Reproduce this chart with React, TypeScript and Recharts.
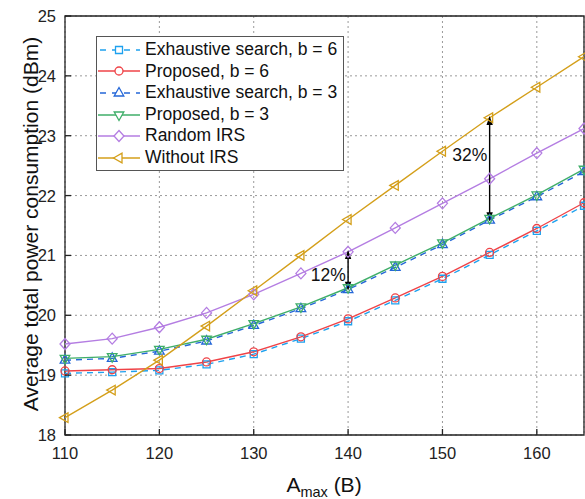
import React from 'react';
import {
  LineChart,
  Line,
  XAxis,
  YAxis,
  CartesianGrid,
  ReferenceArea,
  ReferenceLine,
  ReferenceDot,
} from 'recharts';

// ── data ─────────────────────────────────────────────────────────────
const A_MAX = [110, 115, 120, 125, 130, 135, 140, 145, 150, 155, 160, 165];
const EXHAUSTIVE_B6 = [19.03, 19.05, 19.08, 19.18, 19.35, 19.61, 19.9, 20.25, 20.61, 21.01, 21.41, 21.83];
const PROPOSED_B6 = [19.07, 19.09, 19.11, 19.22, 19.39, 19.64, 19.94, 20.29, 20.65, 21.05, 21.45, 21.88];
const EXHAUSTIVE_B3 = [19.25, 19.28, 19.4, 19.57, 19.83, 20.11, 20.43, 20.8, 21.18, 21.59, 21.98, 22.4];
const PROPOSED_B3 = [19.28, 19.31, 19.43, 19.6, 19.86, 20.14, 20.46, 20.84, 21.21, 21.62, 22.01, 22.44];
const RANDOM_IRS = [19.52, 19.61, 19.8, 20.04, 20.35, 20.7, 21.06, 21.46, 21.87, 22.28, 22.71, 23.12];
const WITHOUT_IRS = [18.29, 18.75, 19.25, 19.82, 20.41, 21.0, 21.6, 22.17, 22.74, 23.3, 23.81, 24.32];

const X_TICKS = [110, 120, 130, 140, 150, 160];
const Y_TICKS = [18, 19, 20, 21, 22, 23, 24, 25];

const FONT = '"Liberation Sans", Arial, Helvetica, sans-serif';

const data = A_MAX.map((a, i) => ({
  a,
  e6: EXHAUSTIVE_B6[i],
  p6: PROPOSED_B6[i],
  e3: EXHAUSTIVE_B3[i],
  p3: PROPOSED_B3[i],
  rnd: RANDOM_IRS[i],
  none: WITHOUT_IRS[i],
}));

// ── markers ──────────────────────────────────────────────────────────
type Shape = 'square' | 'circle' | 'up' | 'down' | 'diamond' | 'left';

function markerPath(shape: Shape, x: number, y: number) {
  switch (shape) {
    case 'square':
      return `M${x - 3.5},${y - 3.5}h7v7h-7z`;
    case 'up':
      return `M${x},${y - 5.5}L${x + 4.8},${y + 3}L${x - 4.8},${y + 3}z`;
    case 'down':
      return `M${x},${y + 5.5}L${x + 4.8},${y - 3}L${x - 4.8},${y - 3}z`;
    case 'diamond':
      return `M${x},${y - 5.5}L${x + 5},${y}L${x},${y + 5.5}L${x - 5},${y}z`;
    case 'left':
      return `M${x - 5.5},${y}L${x + 3},${y - 4.8}L${x + 3},${y + 4.8}z`;
    default:
      return `M${x - 4},${y}a4,4 0 1,0 8,0a4,4 0 1,0 -8,0`;
  }
}

const makeDot = (shape: Shape, color: string) => (props: any) => {
  const { cx, cy, index } = props;
  if (cx == null || cy == null) return <g key={index} />;
  return (
    <path key={index} d={markerPath(shape, cx, cy)} fill="none" stroke={color} strokeWidth={1.3} />
  );
};

const SERIES = [
  { key: 'e6', name: 'Exhaustive search, b = 6', color: '#1ea1ee', shape: 'square' as Shape, dash: '6 5' },
  { key: 'p6', name: 'Proposed, b = 6', color: '#ef4347', shape: 'circle' as Shape, dash: undefined },
  { key: 'e3', name: 'Exhaustive search, b = 3', color: '#2467d8', shape: 'up' as Shape, dash: '6 5' },
  { key: 'p3', name: 'Proposed, b = 3', color: '#3fae69', shape: 'down' as Shape, dash: undefined },
  { key: 'rnd', name: 'Random IRS', color: '#b47de2', shape: 'diamond' as Shape, dash: undefined },
  { key: 'none', name: 'Without IRS', color: '#d49f1a', shape: 'left' as Shape, dash: undefined },
];

// ── axes bits ───────────────────────────────────────────────────────
const XTick = ({ x, y, payload }: any) => (
  <g>
    <line x1={x} x2={x} y1={y} y2={y - 6} stroke="#222" strokeWidth={1.3} />
    <text x={x} y={y + 24} textAnchor="middle" fontSize={16.5} fontFamily={FONT} fill="#222">
      {payload.value}
    </text>
  </g>
);

const YTick = ({ x, y, payload }: any) => (
  <g>
    <line x1={x} x2={x + 6} y1={y} y2={y} stroke="#222" strokeWidth={1.3} />
    <text x={x - 9} y={y + 6} textAnchor="end" fontSize={16.5} fontFamily={FONT} fill="#222">
      {payload.value}
    </text>
  </g>
);

const DoubleArrow = (props: any) => {
  const { x1, y1, x2, y2 } = props;
  const top = Math.min(y1, y2);
  const bot = Math.max(y1, y2);
  return (
    <g>
      <line x1={x1} x2={x2} y1={top + 4} y2={bot - 4} stroke="#000" strokeWidth={1.4} />
      <path d={`M${x1},${top}l-3.2,9h6.4z`} fill="#000" />
      <path d={`M${x1},${bot}l-3.2,-9h6.4z`} fill="#000" />
    </g>
  );
};

function ChartLegend() {
  return (
    <div
      style={{
        position: 'absolute',
        left: 96,
        top: 36,
        border: '1px solid #555',
        background: '#fff',
        width: 245,
        padding: '2px 0 1px 1px',
        fontFamily: FONT,
        fontSize: 17.5,
        color: '#111',
        lineHeight: '21.6px',
      }}
    >
      {SERIES.map((s) => (
        <div key={s.key} style={{ display: 'flex', alignItems: 'center', height: 21.6 }}>
          <svg width={42} height={14} style={{ marginRight: 5 }}>
            <line
              x1={0}
              x2={42}
              y1={7}
              y2={7}
              stroke={s.color}
              strokeWidth={1.4}
              strokeDasharray={s.dash ? '6 6' : undefined}
              strokeDashoffset={s.dash ? -2 : undefined}
            />
            <path d={markerPath(s.shape, 21, 7)} fill="#fff" stroke={s.color} strokeWidth={1.3} />
          </svg>
          <span style={{ whiteSpace: 'nowrap' }}>{s.name}</span>
        </div>
      ))}
    </div>
  );
}

export default function App() {
  return (
    <div style={{ position: 'absolute', left: 0, top: 0, width: 585, height: 499, background: '#fff' }}>
      <LineChart width={585} height={499} data={data} margin={{ top: 16, right: 1, bottom: 0, left: 0 }}>
        <CartesianGrid stroke="#9a9a9a" strokeDasharray="2 3" strokeWidth={1} />
        <XAxis
          dataKey="a"
          type="number"
          domain={[110, 165]}
          ticks={X_TICKS}
          height={64}
          axisLine={false}
          tickLine={false}
          tickSize={0}
          tickMargin={0}
          tick={<XTick />}
          interval={0}
          label={{
            content: () => (
              <text x={324} y={492} textAnchor="middle" fontSize={21} fontFamily={FONT} fill="#111">
                A
                <tspan dy={5} fontSize={14.5}>max</tspan>
                <tspan dy={-5}> (B)</tspan>
              </text>
            ),
          }}
        />
        <YAxis
          type="number"
          domain={[18, 25]}
          ticks={Y_TICKS}
          width={65}
          axisLine={false}
          tickLine={false}
          tickSize={0}
          tickMargin={0}
          tick={<YTick />}
          interval={0}
          label={{
            content: () => (
              <text
                transform="translate(38,224) rotate(-90)"
                textAnchor="middle"
                fontSize={21}
                fontFamily={FONT}
                fill="#111"
              >
                Average total power consumption (dBm)
              </text>
            ),
          }}
        />
        <ReferenceArea x1={110} x2={165} y1={18} y2={25} fill="none" stroke="#222" strokeWidth={1.3} fillOpacity={0} />
        {SERIES.map((s) => (
          <Line
            key={s.key}
            dataKey={s.key}
            name={s.name}
            stroke={s.color}
            strokeWidth={1.4}
            strokeDasharray={s.dash}
            dot={makeDot(s.shape, s.color)}
            activeDot={false}
            isAnimationActive={false}
          />
        ))}
        <ReferenceLine segment={[{ x: 140, y: 21.09 }, { x: 140, y: 20.41 }]} shape={<DoubleArrow />} />
        <ReferenceLine segment={[{ x: 155, y: 23.33 }, { x: 155, y: 21.57 }]} shape={<DoubleArrow />} />
        <ReferenceDot
          x={137.9}
          y={20.67}
          r={0}
          label={{ value: '12%', position: 'center', fontSize: 17.5, fontFamily: FONT, fill: '#111' }}
        />
        <ReferenceDot
          x={152.9}
          y={22.68}
          r={0}
          label={{ value: '32%', position: 'center', fontSize: 17.5, fontFamily: FONT, fill: '#111' }}
        />
      </LineChart>
      <ChartLegend />
    </div>
  );
}
